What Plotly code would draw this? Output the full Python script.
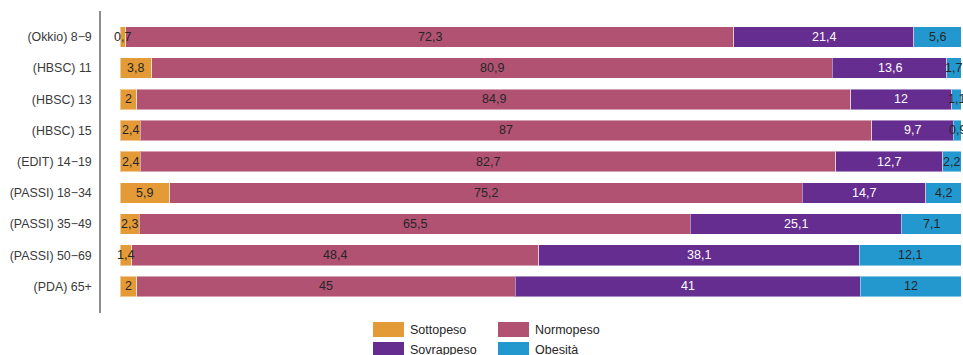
import plotly.graph_objects as go

# Survey groups (top to bottom) and BMI class shares (%)
groups = [
    "(Okkio) 8\u22129", "(HBSC) 11", "(HBSC) 13", "(HBSC) 15", "(EDIT) 14\u221219",
    "(PASSI) 18\u221234", "(PASSI) 35\u221249", "(PASSI) 50\u221269", "(PDA) 65+",
]
sottopeso = [0.7, 3.8, 2, 2.4, 2.4, 5.9, 2.3, 1.4, 2]
normopeso = [72.3, 80.9, 84.9, 87, 82.7, 75.2, 65.5, 48.4, 45]
sovrappeso = [21.4, 13.6, 12, 9.7, 12.7, 14.7, 25.1, 38.1, 41]
obesita = [5.6, 1.7, 1.1, 0.9, 2.2, 4.2, 7.1, 12.1, 12]

series = [
    ("Sottopeso", sottopeso, "#E49B37", "#262626"),
    ("Normopeso", normopeso, "#B15273", "#262626"),
    ("Sovrappeso", sovrappeso, "#652D8F", "#FFFFFF"),
    ("Obesità", obesita, "#2398CE", "#262626"),
]

W, H = 963, 355
M_L, M_R, M_T, M_B = 101, 2, 11, 42
FONT = "Liberation Sans, Arial, sans-serif"


def fmt(v):
    return f"{v:g}".replace(".", ",")


fig = go.Figure()
annotations = []
base = [0.0] * len(groups)
for name, vals, color, tcolor in series:
    fig.add_trace(go.Bar(
        name=name,
        y=groups,
        x=vals,
        orientation="h",
        marker=dict(color=color, line=dict(color="rgba(255,255,255,0.45)", width=1)),
        showlegend=False,
        hoverinfo="skip",
    ))
    # value label centred on each segment, allowed to overflow narrow segments
    for i, (g, v) in enumerate(zip(groups, vals)):
        annotations.append(dict(
            x=base[i] + v / 2, y=g, xref="x", yref="y",
            text=fmt(v), showarrow=False, xanchor="center", yanchor="middle",
            font=dict(size=12.5, color=tcolor, family=FONT),
        ))
        base[i] += v

# Legend drawn as boxes + labels below the plot, two entries per row
plot_w = W - M_L - M_R
plot_h = H - M_T - M_B


def px_x(p):
    return (p - M_L) / plot_w


def px_y(p):
    return (H - M_B - p) / plot_h


legend_items = [
    ("Sottopeso", "#E49B37", 373, 322),
    ("Normopeso", "#B15273", 498, 322),
    ("Sovrappeso", "#652D8F", 373, 342),
    ("Obesità", "#2398CE", 498, 342),
]
shapes = []
for label, color, bx, by in legend_items:
    shapes.append(dict(
        type="rect", xref="paper", yref="paper",
        x0=px_x(bx), x1=px_x(bx + 31), y0=px_y(by), y1=px_y(by + 15),
        fillcolor=color, line=dict(width=0),
    ))
    annotations.append(dict(
        xref="paper", yref="paper", x=px_x(bx + 35), y=px_y(by + 7.5),
        text=label, showarrow=False, xanchor="left", yanchor="middle",
        font=dict(size=12.5, color="#262626", family=FONT),
    ))

fig.update_layout(
    barmode="stack",
    bargap=0.34,
    width=W, height=H,
    margin=dict(l=M_L, r=M_R, t=M_T, b=M_B, pad=0),
    paper_bgcolor="white",
    plot_bgcolor="white",
    font=dict(family=FONT),
    shapes=shapes,
    annotations=annotations,
    showlegend=False,
)
fig.update_xaxes(
    range=[-2.26, 100], visible=False, showgrid=False, zeroline=False,
)
fig.update_yaxes(
    categoryorder="array", categoryarray=groups,
    range=[8.85, -0.83],
    showline=True, linecolor="#8E8E8E", linewidth=1.5,
    ticks="", ticklabelstandoff=5,
    tickfont=dict(size=12.4, color="#3a3a3a", family=FONT),
    showgrid=False, zeroline=False,
)

fig.write_html("out.html")
